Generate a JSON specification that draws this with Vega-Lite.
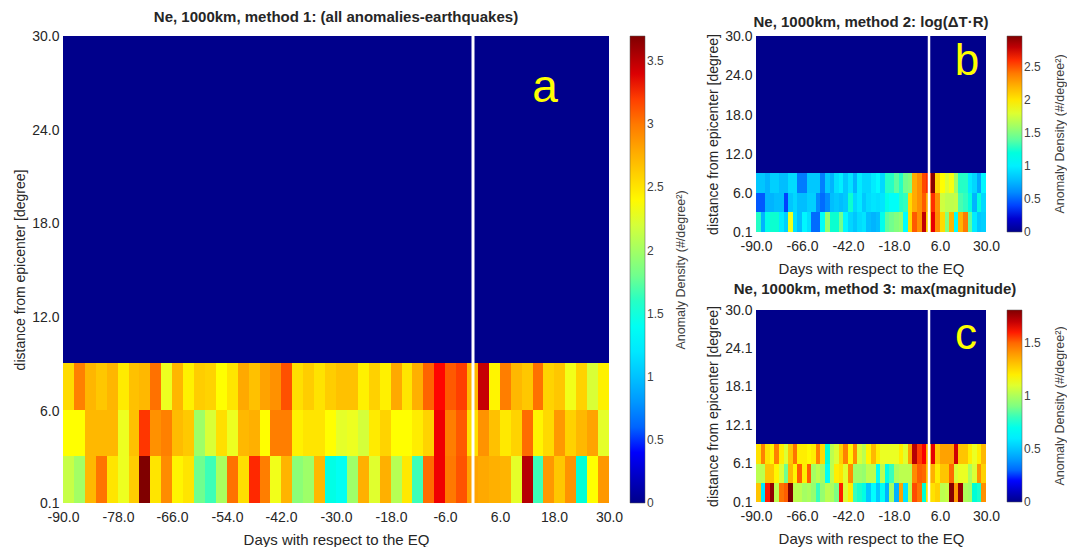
{"$schema":"https://vega.github.io/schema/vega-lite/v6.json","padding":{"left":13,"top":10,"right":0,"bottom":0},"bounds":"flush","spacing":147,"background":"white",
"config":{"font":"Liberation Sans","view":{"stroke":null},"axis":{"grid":false,"domain":false,"tickSize":0,"labelColor":"#262626","titleColor":"#262626","labelFontSize":14,"titleFontSize":14,"titleFontWeight":"normal","labelFlush":false,"labelPadding":4},"legend":{"labelFontSize":12,"labelColor":"#404040","titleColor":"#404040","titleFontSize":12.5,"titleFontWeight":"normal"}},
"datasets":{
"cols":[{"t":-90,"e":-87.6},{"t":-87.6,"e":-85.2},{"t":-85.2,"e":-82.8},{"t":-82.8,"e":-80.4},{"t":-80.4,"e":-78},{"t":-78,"e":-75.6},{"t":-75.6,"e":-73.2},{"t":-73.2,"e":-70.8},{"t":-70.8,"e":-68.4},{"t":-68.4,"e":-66},{"t":-66,"e":-63.6},{"t":-63.6,"e":-61.2},{"t":-61.2,"e":-58.8},{"t":-58.8,"e":-56.4},{"t":-56.4,"e":-54},{"t":-54,"e":-51.6},{"t":-51.6,"e":-49.2},{"t":-49.2,"e":-46.8},{"t":-46.8,"e":-44.4},{"t":-44.4,"e":-42},{"t":-42,"e":-39.6},{"t":-39.6,"e":-37.2},{"t":-37.2,"e":-34.8},{"t":-34.8,"e":-32.4},{"t":-32.4,"e":-30},{"t":-30,"e":-27.6},{"t":-27.6,"e":-25.2},{"t":-25.2,"e":-22.8},{"t":-22.8,"e":-20.4},{"t":-20.4,"e":-18},{"t":-18,"e":-15.6},{"t":-15.6,"e":-13.2},{"t":-13.2,"e":-10.8},{"t":-10.8,"e":-8.4},{"t":-8.4,"e":-6},{"t":-6,"e":-3.6},{"t":-3.6,"e":-1.2},{"t":-1.2,"e":1.2},{"t":1.2,"e":3.6},{"t":3.6,"e":6},{"t":6,"e":8.4},{"t":8.4,"e":10.8},{"t":10.8,"e":13.2},{"t":13.2,"e":15.6},{"t":15.6,"e":18},{"t":18,"e":20.4},{"t":20.4,"e":22.8},{"t":22.8,"e":25.2},{"t":25.2,"e":27.6},{"t":27.6,"e":30}],
"bands":[{"lo":0.1,"hi":3.09},{"lo":3.09,"hi":6.08},{"lo":6.08,"hi":9.07}],
"a":[
{"t":-90,"lo":0.1,"v":2.15},{"t":-87.6,"lo":0.1,"v":2.0},{"t":-85.2,"lo":0.1,"v":2.72},{"t":-82.8,"lo":0.1,"v":3.02},{"t":-80.4,"lo":0.1,"v":2.5},{"t":-78,"lo":0.1,"v":2.3},{"t":-75.6,"lo":0.1,"v":2.62},{"t":-73.2,"lo":0.1,"v":3.7},{"t":-70.8,"lo":0.1,"v":2.5},{"t":-68.4,"lo":0.1,"v":2.92},{"t":-66,"lo":0.1,"v":2.42},{"t":-63.6,"lo":0.1,"v":2.5},{"t":-61.2,"lo":0.1,"v":1.8},{"t":-58.8,"lo":0.1,"v":1.65},{"t":-56.4,"lo":0.1,"v":2.03},{"t":-54,"lo":0.1,"v":3.03},{"t":-51.6,"lo":0.1,"v":2.53},{"t":-49.2,"lo":0.1,"v":3.25},{"t":-46.8,"lo":0.1,"v":2.98},{"t":-44.4,"lo":0.1,"v":2.32},{"t":-42,"lo":0.1,"v":2.74},{"t":-39.6,"lo":0.1,"v":1.9},{"t":-37.2,"lo":0.1,"v":1.98},{"t":-34.8,"lo":0.1,"v":2.72},{"t":-32.4,"lo":0.1,"v":1.46},{"t":-30,"lo":0.1,"v":1.4},{"t":-27.6,"lo":0.1,"v":1.98},{"t":-25.2,"lo":0.1,"v":2.76},{"t":-22.8,"lo":0.1,"v":2.25},{"t":-20.4,"lo":0.1,"v":2.76},{"t":-18,"lo":0.1,"v":2.08},{"t":-15.6,"lo":0.1,"v":2.48},{"t":-13.2,"lo":0.1,"v":1.65},{"t":-10.8,"lo":0.1,"v":3.05},{"t":-8.4,"lo":0.1,"v":3.34},{"t":-6,"lo":0.1,"v":3.0},{"t":-3.6,"lo":0.1,"v":3.14},{"t":-1.2,"lo":0.1,"v":2.82},{"t":1.2,"lo":0.1,"v":2.79},{"t":3.6,"lo":0.1,"v":2.76},{"t":6,"lo":0.1,"v":2.74},{"t":8.4,"lo":0.1,"v":2.27},{"t":10.8,"lo":0.1,"v":3.52},{"t":13.2,"lo":0.1,"v":1.65},{"t":15.6,"lo":0.1,"v":2.87},{"t":18,"lo":0.1,"v":2.65},{"t":20.4,"lo":0.1,"v":2.89},{"t":22.8,"lo":0.1,"v":1.52},{"t":25.2,"lo":0.1,"v":2.37},{"t":27.6,"lo":0.1,"v":2.87},
{"t":-90,"lo":3.09,"v":2.37},{"t":-87.6,"lo":3.09,"v":2.37},{"t":-85.2,"lo":3.09,"v":2.72},{"t":-82.8,"lo":3.09,"v":2.72},{"t":-80.4,"lo":3.09,"v":2.72},{"t":-78,"lo":3.09,"v":2.3},{"t":-75.6,"lo":3.09,"v":2.68},{"t":-73.2,"lo":3.09,"v":3.22},{"t":-70.8,"lo":3.09,"v":2.9},{"t":-68.4,"lo":3.09,"v":2.97},{"t":-66,"lo":3.09,"v":2.7},{"t":-63.6,"lo":3.09,"v":2.64},{"t":-61.2,"lo":3.09,"v":1.98},{"t":-58.8,"lo":3.09,"v":2.22},{"t":-56.4,"lo":3.09,"v":2.53},{"t":-54,"lo":3.09,"v":2.3},{"t":-51.6,"lo":3.09,"v":2.72},{"t":-49.2,"lo":3.09,"v":2.76},{"t":-46.8,"lo":3.09,"v":2.37},{"t":-44.4,"lo":3.09,"v":2.98},{"t":-42,"lo":3.09,"v":2.98},{"t":-39.6,"lo":3.09,"v":2.44},{"t":-37.2,"lo":3.09,"v":2.5},{"t":-34.8,"lo":3.09,"v":2.5},{"t":-32.4,"lo":3.09,"v":2.37},{"t":-30,"lo":3.09,"v":2.27},{"t":-27.6,"lo":3.09,"v":2.3},{"t":-25.2,"lo":3.09,"v":2.2},{"t":-22.8,"lo":3.09,"v":2.47},{"t":-20.4,"lo":3.09,"v":2.59},{"t":-18,"lo":3.09,"v":2.37},{"t":-15.6,"lo":3.09,"v":2.37},{"t":-13.2,"lo":3.09,"v":2.46},{"t":-10.8,"lo":3.09,"v":2.59},{"t":-8.4,"lo":3.09,"v":3.34},{"t":-6,"lo":3.09,"v":2.98},{"t":-3.6,"lo":3.09,"v":3.12},{"t":-1.2,"lo":3.09,"v":2.53},{"t":1.2,"lo":3.09,"v":2.89},{"t":3.6,"lo":3.09,"v":2.68},{"t":6,"lo":3.09,"v":2.48},{"t":8.4,"lo":3.09,"v":2.59},{"t":10.8,"lo":3.09,"v":3.05},{"t":13.2,"lo":3.09,"v":2.42},{"t":15.6,"lo":3.09,"v":2.56},{"t":18,"lo":3.09,"v":2.87},{"t":20.4,"lo":3.09,"v":2.6},{"t":22.8,"lo":3.09,"v":2.72},{"t":25.2,"lo":3.09,"v":2.82},{"t":27.6,"lo":3.09,"v":2.27},
{"t":-90,"lo":6.08,"v":2.55},{"t":-87.6,"lo":6.08,"v":2.97},{"t":-85.2,"lo":6.08,"v":2.73},{"t":-82.8,"lo":6.08,"v":2.65},{"t":-80.4,"lo":6.08,"v":2.73},{"t":-78,"lo":6.08,"v":2.47},{"t":-75.6,"lo":6.08,"v":2.68},{"t":-73.2,"lo":6.08,"v":2.72},{"t":-70.8,"lo":6.08,"v":3.03},{"t":-68.4,"lo":6.08,"v":2.3},{"t":-66,"lo":6.08,"v":2.73},{"t":-63.6,"lo":6.08,"v":2.44},{"t":-61.2,"lo":6.08,"v":2.62},{"t":-58.8,"lo":6.08,"v":2.59},{"t":-56.4,"lo":6.08,"v":2.37},{"t":-54,"lo":6.08,"v":2.5},{"t":-51.6,"lo":6.08,"v":2.79},{"t":-49.2,"lo":6.08,"v":2.68},{"t":-46.8,"lo":6.08,"v":2.82},{"t":-44.4,"lo":6.08,"v":2.9},{"t":-42,"lo":6.08,"v":3.15},{"t":-39.6,"lo":6.08,"v":2.53},{"t":-37.2,"lo":6.08,"v":2.62},{"t":-34.8,"lo":6.08,"v":2.51},{"t":-32.4,"lo":6.08,"v":2.62},{"t":-30,"lo":6.08,"v":2.68},{"t":-27.6,"lo":6.08,"v":2.68},{"t":-25.2,"lo":6.08,"v":2.44},{"t":-22.8,"lo":6.08,"v":2.6},{"t":-20.4,"lo":6.08,"v":2.44},{"t":-18,"lo":6.08,"v":2.79},{"t":-15.6,"lo":6.08,"v":2.5},{"t":-13.2,"lo":6.08,"v":2.76},{"t":-10.8,"lo":6.08,"v":3.08},{"t":-8.4,"lo":6.08,"v":3.29},{"t":-6,"lo":6.08,"v":3.12},{"t":-3.6,"lo":6.08,"v":3.2},{"t":-1.2,"lo":6.08,"v":2.72},{"t":1.2,"lo":6.08,"v":3.47},{"t":3.6,"lo":6.08,"v":2.42},{"t":6,"lo":6.08,"v":2.98},{"t":8.4,"lo":6.08,"v":2.72},{"t":10.8,"lo":6.08,"v":2.65},{"t":13.2,"lo":6.08,"v":3.03},{"t":15.6,"lo":6.08,"v":2.59},{"t":18,"lo":6.08,"v":2.65},{"t":20.4,"lo":6.08,"v":2.32},{"t":22.8,"lo":6.08,"v":2.59},{"t":25.2,"lo":6.08,"v":2.22},{"t":27.6,"lo":6.08,"v":2.44}],
"b":[
{"t":-90,"lo":0.1,"v":1.28},{"t":-87.6,"lo":0.1,"v":0.75},{"t":-85.2,"lo":0.1,"v":1.17},{"t":-82.8,"lo":0.1,"v":1.25},{"t":-80.4,"lo":0.1,"v":1.25},{"t":-78,"lo":0.1,"v":0.98},{"t":-75.6,"lo":0.1,"v":0.86},{"t":-73.2,"lo":0.1,"v":1.85},{"t":-70.8,"lo":0.1,"v":0.93},{"t":-68.4,"lo":0.1,"v":0.79},{"t":-66,"lo":0.1,"v":1.03},{"t":-63.6,"lo":0.1,"v":0.93},{"t":-61.2,"lo":0.1,"v":0.5},{"t":-58.8,"lo":0.1,"v":0.5},{"t":-56.4,"lo":0.1,"v":1.1},{"t":-54,"lo":0.1,"v":1.55},{"t":-51.6,"lo":0.1,"v":1.25},{"t":-49.2,"lo":0.1,"v":1.25},{"t":-46.8,"lo":0.1,"v":1.45},{"t":-44.4,"lo":0.1,"v":1.03},{"t":-42,"lo":0.1,"v":0.89},{"t":-39.6,"lo":0.1,"v":0.82},{"t":-37.2,"lo":0.1,"v":0.91},{"t":-34.8,"lo":0.1,"v":0.95},{"t":-32.4,"lo":0.1,"v":0.79},{"t":-30,"lo":0.1,"v":0.75},{"t":-27.6,"lo":0.1,"v":0.79},{"t":-25.2,"lo":0.1,"v":1.15},{"t":-22.8,"lo":0.1,"v":1.4},{"t":-20.4,"lo":0.1,"v":1.45},{"t":-18,"lo":0.1,"v":1.5},{"t":-15.6,"lo":0.1,"v":1.55},{"t":-13.2,"lo":0.1,"v":1.07},{"t":-10.8,"lo":0.1,"v":2.05},{"t":-8.4,"lo":0.1,"v":2.5},{"t":-6,"lo":0.1,"v":2.33},{"t":-3.6,"lo":0.1,"v":2.8},{"t":-1.2,"lo":0.1,"v":2.1},{"t":1.2,"lo":0.1,"v":2.7},{"t":3.6,"lo":0.1,"v":2.35},{"t":6,"lo":0.1,"v":2.05},{"t":8.4,"lo":0.1,"v":1.5},{"t":10.8,"lo":0.1,"v":2.2},{"t":13.2,"lo":0.1,"v":1.07},{"t":15.6,"lo":0.1,"v":2.2},{"t":18,"lo":0.1,"v":2.4},{"t":20.4,"lo":0.1,"v":1.4},{"t":22.8,"lo":0.1,"v":0.98},{"t":25.2,"lo":0.1,"v":0.83},{"t":27.6,"lo":0.1,"v":0.86},
{"t":-90,"lo":3.09,"v":0.45},{"t":-87.6,"lo":3.09,"v":0.45},{"t":-85.2,"lo":3.09,"v":0.75},{"t":-82.8,"lo":3.09,"v":0.75},{"t":-80.4,"lo":3.09,"v":0.79},{"t":-78,"lo":3.09,"v":0.79},{"t":-75.6,"lo":3.09,"v":0.4},{"t":-73.2,"lo":3.09,"v":0.82},{"t":-70.8,"lo":3.09,"v":0.89},{"t":-68.4,"lo":3.09,"v":0.79},{"t":-66,"lo":3.09,"v":0.79},{"t":-63.6,"lo":3.09,"v":0.86},{"t":-61.2,"lo":3.09,"v":0.86},{"t":-58.8,"lo":3.09,"v":0.6},{"t":-56.4,"lo":3.09,"v":0.5},{"t":-54,"lo":3.09,"v":0.6},{"t":-51.6,"lo":3.09,"v":0.79},{"t":-49.2,"lo":3.09,"v":0.83},{"t":-46.8,"lo":3.09,"v":0.79},{"t":-44.4,"lo":3.09,"v":0.83},{"t":-42,"lo":3.09,"v":1.25},{"t":-39.6,"lo":3.09,"v":0.89},{"t":-37.2,"lo":3.09,"v":0.98},{"t":-34.8,"lo":3.09,"v":0.83},{"t":-32.4,"lo":3.09,"v":0.91},{"t":-30,"lo":3.09,"v":0.95},{"t":-27.6,"lo":3.09,"v":0.93},{"t":-25.2,"lo":3.09,"v":0.95},{"t":-22.8,"lo":3.09,"v":1.17},{"t":-20.4,"lo":3.09,"v":1.1},{"t":-18,"lo":3.09,"v":1.1},{"t":-15.6,"lo":3.09,"v":1.28},{"t":-13.2,"lo":3.09,"v":1.3},{"t":-10.8,"lo":3.09,"v":2.05},{"t":-8.4,"lo":3.09,"v":2.23},{"t":-6,"lo":3.09,"v":2.33},{"t":-3.6,"lo":3.09,"v":2.5},{"t":-1.2,"lo":3.09,"v":2.23},{"t":1.2,"lo":3.09,"v":2.6},{"t":3.6,"lo":3.09,"v":2.33},{"t":6,"lo":3.09,"v":1.75},{"t":8.4,"lo":3.09,"v":1.7},{"t":10.8,"lo":3.09,"v":1.7},{"t":13.2,"lo":3.09,"v":1.72},{"t":15.6,"lo":3.09,"v":1.35},{"t":18,"lo":3.09,"v":1.3},{"t":20.4,"lo":3.09,"v":1.2},{"t":22.8,"lo":3.09,"v":0.75},{"t":25.2,"lo":3.09,"v":1.2},{"t":27.6,"lo":3.09,"v":0.9},
{"t":-90,"lo":6.08,"v":0.82},{"t":-87.6,"lo":6.08,"v":0.82},{"t":-85.2,"lo":6.08,"v":0.75},{"t":-82.8,"lo":6.08,"v":0.86},{"t":-80.4,"lo":6.08,"v":0.86},{"t":-78,"lo":6.08,"v":0.79},{"t":-75.6,"lo":6.08,"v":0.79},{"t":-73.2,"lo":6.08,"v":0.91},{"t":-70.8,"lo":6.08,"v":0.91},{"t":-68.4,"lo":6.08,"v":0.55},{"t":-66,"lo":6.08,"v":0.55},{"t":-63.6,"lo":6.08,"v":0.83},{"t":-61.2,"lo":6.08,"v":0.83},{"t":-58.8,"lo":6.08,"v":0.83},{"t":-56.4,"lo":6.08,"v":0.56},{"t":-54,"lo":6.08,"v":0.83},{"t":-51.6,"lo":6.08,"v":0.75},{"t":-49.2,"lo":6.08,"v":0.93},{"t":-46.8,"lo":6.08,"v":1.0},{"t":-44.4,"lo":6.08,"v":0.83},{"t":-42,"lo":6.08,"v":0.95},{"t":-39.6,"lo":6.08,"v":0.75},{"t":-37.2,"lo":6.08,"v":0.98},{"t":-34.8,"lo":6.08,"v":0.89},{"t":-32.4,"lo":6.08,"v":0.89},{"t":-30,"lo":6.08,"v":0.98},{"t":-27.6,"lo":6.08,"v":1.05},{"t":-25.2,"lo":6.08,"v":0.9},{"t":-22.8,"lo":6.08,"v":1.28},{"t":-20.4,"lo":6.08,"v":1.28},{"t":-18,"lo":6.08,"v":1.4},{"t":-15.6,"lo":6.08,"v":1.28},{"t":-13.2,"lo":6.08,"v":1.45},{"t":-10.8,"lo":6.08,"v":1.49},{"t":-8.4,"lo":6.08,"v":2.23},{"t":-6,"lo":6.08,"v":2.33},{"t":-3.6,"lo":6.08,"v":2.55},{"t":-1.2,"lo":6.08,"v":2.6},{"t":1.2,"lo":6.08,"v":2.95},{"t":3.6,"lo":6.08,"v":2.08},{"t":6,"lo":6.08,"v":1.9},{"t":8.4,"lo":6.08,"v":1.8},{"t":10.8,"lo":6.08,"v":1.88},{"t":13.2,"lo":6.08,"v":1.6},{"t":15.6,"lo":6.08,"v":1.28},{"t":18,"lo":6.08,"v":1.28},{"t":20.4,"lo":6.08,"v":0.98},{"t":22.8,"lo":6.08,"v":0.89},{"t":25.2,"lo":6.08,"v":0.7},{"t":27.6,"lo":6.08,"v":1.03}],
"c":[
{"t":-90,"lo":0.1,"v":1.3},{"t":-87.6,"lo":0.1,"v":0.58},{"t":-85.2,"lo":0.1,"v":1.6},{"t":-82.8,"lo":0.1,"v":1.78},{"t":-80.4,"lo":0.1,"v":1.03},{"t":-78,"lo":0.1,"v":1.48},{"t":-75.6,"lo":0.1,"v":1.52},{"t":-73.2,"lo":0.1,"v":1.81},{"t":-70.8,"lo":0.1,"v":1.03},{"t":-68.4,"lo":0.1,"v":1.03},{"t":-66,"lo":0.1,"v":0.98},{"t":-63.6,"lo":0.1,"v":1.0},{"t":-61.2,"lo":0.1,"v":0.95},{"t":-58.8,"lo":0.1,"v":0.8},{"t":-56.4,"lo":0.1,"v":0.95},{"t":-54,"lo":0.1,"v":1.03},{"t":-51.6,"lo":0.1,"v":1.0},{"t":-49.2,"lo":0.1,"v":0.9},{"t":-46.8,"lo":0.1,"v":1.6},{"t":-44.4,"lo":0.1,"v":1.09},{"t":-42,"lo":0.1,"v":1.2},{"t":-39.6,"lo":0.1,"v":0.8},{"t":-37.2,"lo":0.1,"v":0.77},{"t":-34.8,"lo":0.1,"v":0.72},{"t":-32.4,"lo":0.1,"v":0.5},{"t":-30,"lo":0.1,"v":0.65},{"t":-27.6,"lo":0.1,"v":0.5},{"t":-25.2,"lo":0.1,"v":0.68},{"t":-22.8,"lo":0.1,"v":0.45},{"t":-20.4,"lo":0.1,"v":0.98},{"t":-18,"lo":0.1,"v":0.45},{"t":-15.6,"lo":0.1,"v":1.38},{"t":-13.2,"lo":0.1,"v":0.58},{"t":-10.8,"lo":0.1,"v":1.03},{"t":-8.4,"lo":0.1,"v":1.55},{"t":-6,"lo":0.1,"v":1.48},{"t":-3.6,"lo":0.1,"v":0.75},{"t":-1.2,"lo":0.1,"v":1.22},{"t":1.2,"lo":0.1,"v":1.23},{"t":3.6,"lo":0.1,"v":1.27},{"t":6,"lo":0.1,"v":1.03},{"t":8.4,"lo":0.1,"v":1.05},{"t":10.8,"lo":0.1,"v":1.8},{"t":13.2,"lo":0.1,"v":1.4},{"t":15.6,"lo":0.1,"v":1.77},{"t":18,"lo":0.1,"v":1.0},{"t":20.4,"lo":0.1,"v":0.98},{"t":22.8,"lo":0.1,"v":0.75},{"t":25.2,"lo":0.1,"v":0.77},{"t":27.6,"lo":0.1,"v":1.42},
{"t":-90,"lo":3.09,"v":1.03},{"t":-87.6,"lo":3.09,"v":1.03},{"t":-85.2,"lo":3.09,"v":1.3},{"t":-82.8,"lo":3.09,"v":1.3},{"t":-80.4,"lo":3.09,"v":1.18},{"t":-78,"lo":3.09,"v":1.09},{"t":-75.6,"lo":3.09,"v":0.88},{"t":-73.2,"lo":3.09,"v":1.33},{"t":-70.8,"lo":3.09,"v":1.18},{"t":-68.4,"lo":3.09,"v":1.52},{"t":-66,"lo":3.09,"v":1.2},{"t":-63.6,"lo":3.09,"v":1.52},{"t":-61.2,"lo":3.09,"v":0.98},{"t":-58.8,"lo":3.09,"v":1.03},{"t":-56.4,"lo":3.09,"v":0.98},{"t":-54,"lo":3.09,"v":0.68},{"t":-51.6,"lo":3.09,"v":1.03},{"t":-49.2,"lo":3.09,"v":1.2},{"t":-46.8,"lo":3.09,"v":1.23},{"t":-44.4,"lo":3.09,"v":1.1},{"t":-42,"lo":3.09,"v":1.43},{"t":-39.6,"lo":3.09,"v":0.97},{"t":-37.2,"lo":3.09,"v":0.97},{"t":-34.8,"lo":3.09,"v":0.95},{"t":-32.4,"lo":3.09,"v":1.03},{"t":-30,"lo":3.09,"v":1.03},{"t":-27.6,"lo":3.09,"v":0.68},{"t":-25.2,"lo":3.09,"v":1.03},{"t":-22.8,"lo":3.09,"v":0.72},{"t":-20.4,"lo":3.09,"v":0.8},{"t":-18,"lo":3.09,"v":1.0},{"t":-15.6,"lo":3.09,"v":1.03},{"t":-13.2,"lo":3.09,"v":1.03},{"t":-10.8,"lo":3.09,"v":1.03},{"t":-8.4,"lo":3.09,"v":1.43},{"t":-6,"lo":3.09,"v":1.52},{"t":-3.6,"lo":3.09,"v":1.5},{"t":-1.2,"lo":3.09,"v":1.3},{"t":1.2,"lo":3.09,"v":1.35},{"t":3.6,"lo":3.09,"v":1.2},{"t":6,"lo":3.09,"v":1.3},{"t":8.4,"lo":3.09,"v":1.3},{"t":10.8,"lo":3.09,"v":1.5},{"t":13.2,"lo":3.09,"v":1.09},{"t":15.6,"lo":3.09,"v":1.12},{"t":18,"lo":3.09,"v":1.12},{"t":20.4,"lo":3.09,"v":1.0},{"t":22.8,"lo":3.09,"v":1.09},{"t":25.2,"lo":3.09,"v":1.42},{"t":27.6,"lo":3.09,"v":1.27},
{"t":-90,"lo":6.08,"v":1.23},{"t":-87.6,"lo":6.08,"v":1.45},{"t":-85.2,"lo":6.08,"v":1.23},{"t":-82.8,"lo":6.08,"v":1.18},{"t":-80.4,"lo":6.08,"v":1.45},{"t":-78,"lo":6.08,"v":1.2},{"t":-75.6,"lo":6.08,"v":1.09},{"t":-73.2,"lo":6.08,"v":1.3},{"t":-70.8,"lo":6.08,"v":1.48},{"t":-68.4,"lo":6.08,"v":1.2},{"t":-66,"lo":6.08,"v":1.2},{"t":-63.6,"lo":6.08,"v":1.17},{"t":-61.2,"lo":6.08,"v":1.2},{"t":-58.8,"lo":6.08,"v":1.45},{"t":-56.4,"lo":6.08,"v":1.25},{"t":-54,"lo":6.08,"v":0.75},{"t":-51.6,"lo":6.08,"v":1.03},{"t":-49.2,"lo":6.08,"v":1.09},{"t":-46.8,"lo":6.08,"v":1.27},{"t":-44.4,"lo":6.08,"v":1.45},{"t":-42,"lo":6.08,"v":1.18},{"t":-39.6,"lo":6.08,"v":1.43},{"t":-37.2,"lo":6.08,"v":1.09},{"t":-34.8,"lo":6.08,"v":1.03},{"t":-32.4,"lo":6.08,"v":1.18},{"t":-30,"lo":6.08,"v":1.33},{"t":-27.6,"lo":6.08,"v":1.2},{"t":-25.2,"lo":6.08,"v":1.12},{"t":-22.8,"lo":6.08,"v":1.12},{"t":-20.4,"lo":6.08,"v":1.12},{"t":-18,"lo":6.08,"v":1.12},{"t":-15.6,"lo":6.08,"v":1.2},{"t":-13.2,"lo":6.08,"v":1.1},{"t":-10.8,"lo":6.08,"v":1.38},{"t":-8.4,"lo":6.08,"v":1.72},{"t":-6,"lo":6.08,"v":1.57},{"t":-3.6,"lo":6.08,"v":1.62},{"t":-1.2,"lo":6.08,"v":1.35},{"t":1.2,"lo":6.08,"v":1.65},{"t":3.6,"lo":6.08,"v":1.3},{"t":6,"lo":6.08,"v":1.38},{"t":8.4,"lo":6.08,"v":1.38},{"t":10.8,"lo":6.08,"v":1.38},{"t":13.2,"lo":6.08,"v":1.68},{"t":15.6,"lo":6.08,"v":1.3},{"t":18,"lo":6.08,"v":1.3},{"t":20.4,"lo":6.08,"v":1.2},{"t":22.8,"lo":6.08,"v":1.12},{"t":25.2,"lo":6.08,"v":1.2},{"t":27.6,"lo":6.08,"v":1.33}]
},
"resolve":{"scale":{"color":"independent"}},
"hconcat":[
{"width":546,"height":467,"title":{"text":"Ne, 1000km, method 1: (all anomalies-earthquakes)","fontSize":15,"fontWeight":"bold","color":"#262626","offset":4},
"layer":[
{"data":{"values":[{"t":-90,"e":30,"lo":9.07,"hi":30,"v":0}]},"mark":"rect","encoding":{"x":{"field":"t","type":"quantitative","scale":{"domain":[-90,30],"nice":false,"zero":false,"round":true},"title":"Days with respect to the EQ","axis":{"values":[-90,-78,-66,-54,-42,-30,-18,-6,6,18,30],"tickCount":20,"labelExpr":"replace(format(datum.value,'.1f'),'−','-')","labelPadding":7,"titlePadding":8,"titleFontSize":15,"labelOverlap":false}},"x2":{"field":"e"},"y":{"field":"lo","type":"quantitative","scale":{"domain":[0.1,30],"nice":false,"zero":false,"round":true},"title":"distance from epicenter [degree]","axis":{"values":[0.1,6,12,18,24,30],"tickCount":20,"format":".1f","titlePadding":4,"labelOverlap":false}},"y2":{"field":"hi"},"color":{"field":"v","type":"quantitative","scale":{"domain":[0,0.407,1.332,1.85,2.368,3.293,3.7],"range":["#00008b","#0000ff","#00ffff","#80ff80","#ffff00","#ff0000","#800000"]},"legend":{"orient":"none","legendX":567,"legendY":0,"gradientLength":467,"gradientThickness":15,"values":[0,0.5,1,1.5,2,2.5,3,3.5],"format":".1~f","title":"Anomaly Density (#/degree²)","titleOrient":"right","titleAnchor":"middle","titlePadding":24,"gradientStrokeColor":"#555","gradientStrokeWidth":0.5,"encoding":{"title":{"angle":{"value":270}},"labels":{"baseline":{"value":"middle"}}}}}}},
{"data":{"name":"a"},"transform":[{"lookup":"t","from":{"data":{"name":"cols"},"key":"t","fields":["e"]}},{"lookup":"lo","from":{"data":{"name":"bands"},"key":"lo","fields":["hi"]}}],"mark":"rect","encoding":{"x":{"field":"t","type":"quantitative"},"x2":{"field":"e"},"y":{"field":"lo","type":"quantitative"},"y2":{"field":"hi"},"color":{"field":"v","type":"quantitative"}}},
{"data":{"values":[{"t":0}]},"mark":{"type":"rule","color":"white","strokeWidth":3},"encoding":{"x":{"field":"t","type":"quantitative"}}},
{"data":{"values":[{"t":15.9,"lo":26.7,"label":"a"}]},"mark":{"type":"text","color":"#ffff00","fontSize":46,"baseline":"middle"},"encoding":{"x":{"field":"t","type":"quantitative"},"y":{"field":"lo","type":"quantitative"},"text":{"field":"label"}}}
]},
{"bounds":"flush","spacing":78,"resolve":{"scale":{"color":"independent"}},"vconcat":[
{"width":230,"height":196,"title":{"text":"Ne, 1000km, method 2: log(ΔT·R)","fontSize":15,"fontWeight":"bold","color":"#262626","offset":-1},
"layer":[
{"data":{"values":[{"t":-90,"e":30,"lo":9.07,"hi":30,"v":0}]},"mark":"rect","encoding":{"x":{"field":"t","type":"quantitative","scale":{"domain":[-90,30],"nice":false,"zero":false,"round":true},"title":"Days with respect to the EQ","axis":{"values":[-90,-66,-42,-18,6,30],"tickCount":20,"labelExpr":"replace(format(datum.value,'.1f'),'−','-')","labelPadding":7,"titlePadding":8,"titleFontSize":15,"labelOverlap":false}},"x2":{"field":"e"},"y":{"field":"lo","type":"quantitative","scale":{"domain":[0.1,30],"nice":false,"zero":false,"round":true},"title":"distance from epicenter [degree]","axis":{"values":[0.1,6,12,18,24,30],"tickCount":20,"format":".1f","titlePadding":4,"labelOverlap":false}},"y2":{"field":"hi"},"color":{"field":"v","type":"quantitative","scale":{"domain":[0,0.327,1.069,1.485,1.901,2.643,2.97],"range":["#00008b","#0000ff","#00ffff","#80ff80","#ffff00","#ff0000","#800000"]},"legend":{"orient":"none","legendX":251,"legendY":0,"gradientLength":196,"gradientThickness":15,"values":[0,0.5,1,1.5,2,2.5],"format":".1~f","title":"Anomaly Density (#/degree²)","titleOrient":"right","titleAnchor":"middle","titlePadding":26,"gradientStrokeColor":"#555","gradientStrokeWidth":0.5,"encoding":{"title":{"angle":{"value":270}},"labels":{"baseline":{"value":"middle"}}}}}}},
{"data":{"name":"b"},"transform":[{"lookup":"t","from":{"data":{"name":"cols"},"key":"t","fields":["e"]}},{"lookup":"lo","from":{"data":{"name":"bands"},"key":"lo","fields":["hi"]}}],"mark":"rect","encoding":{"x":{"field":"t","type":"quantitative"},"x2":{"field":"e"},"y":{"field":"lo","type":"quantitative"},"y2":{"field":"hi"},"color":{"field":"v","type":"quantitative"}}},
{"data":{"values":[{"t":0}]},"mark":{"type":"rule","color":"white","strokeWidth":2.5},"encoding":{"x":{"field":"t","type":"quantitative"}}},
{"data":{"values":[{"t":20,"lo":26,"label":"b"}]},"mark":{"type":"text","color":"#ffff00","fontSize":44,"baseline":"middle"},"encoding":{"x":{"field":"t","type":"quantitative"},"y":{"field":"lo","type":"quantitative"},"text":{"field":"label"}}}
]},
{"width":230,"height":192,"title":{"text":"Ne, 1000km, method 3: max(magnitude)","fontSize":15,"fontWeight":"bold","color":"#262626","offset":6,"dx":4},
"layer":[
{"data":{"values":[{"t":-90,"e":30,"lo":9.07,"hi":30,"v":0}]},"mark":"rect","encoding":{"x":{"field":"t","type":"quantitative","scale":{"domain":[-90,30],"nice":false,"zero":false,"round":true},"title":"Days with respect to the EQ","axis":{"values":[-90,-66,-42,-18,6,30],"tickCount":20,"labelExpr":"replace(format(datum.value,'.1f'),'−','-')","labelPadding":7,"titlePadding":8,"titleFontSize":15,"labelOverlap":false}},"x2":{"field":"e"},"y":{"field":"lo","type":"quantitative","scale":{"domain":[0.1,30],"nice":false,"zero":false,"round":true},"title":"distance from epicenter [degree]","axis":{"values":[0.1,6.1,12.1,18.1,24.1,30],"tickCount":20,"format":".1f","titlePadding":4,"labelOverlap":false}},"y2":{"field":"hi"},"color":{"field":"v","type":"quantitative","scale":{"domain":[0,0.199,0.652,0.905,1.158,1.611,1.81],"range":["#00008b","#0000ff","#00ffff","#80ff80","#ffff00","#ff0000","#800000"]},"legend":{"orient":"none","legendX":251,"legendY":0,"gradientLength":192,"gradientThickness":15,"values":[0,0.5,1,1.5],"format":".1~f","title":"Anomaly Density (#/degree²)","titleOrient":"right","titleAnchor":"middle","titlePadding":26,"gradientStrokeColor":"#555","gradientStrokeWidth":0.5,"encoding":{"title":{"angle":{"value":270}},"labels":{"baseline":{"value":"middle"}}}}}}},
{"data":{"name":"c"},"transform":[{"lookup":"t","from":{"data":{"name":"cols"},"key":"t","fields":["e"]}},{"lookup":"lo","from":{"data":{"name":"bands"},"key":"lo","fields":["hi"]}}],"mark":"rect","encoding":{"x":{"field":"t","type":"quantitative"},"x2":{"field":"e"},"y":{"field":"lo","type":"quantitative"},"y2":{"field":"hi"},"color":{"field":"v","type":"quantitative"}}},
{"data":{"values":[{"t":0}]},"mark":{"type":"rule","color":"white","strokeWidth":2.5},"encoding":{"x":{"field":"t","type":"quantitative"}}},
{"data":{"values":[{"t":19.6,"lo":26,"label":"c"}]},"mark":{"type":"text","color":"#ffff00","fontSize":44,"baseline":"middle"},"encoding":{"x":{"field":"t","type":"quantitative"},"y":{"field":"lo","type":"quantitative"},"text":{"field":"label"}}}
]}
]}
]}
